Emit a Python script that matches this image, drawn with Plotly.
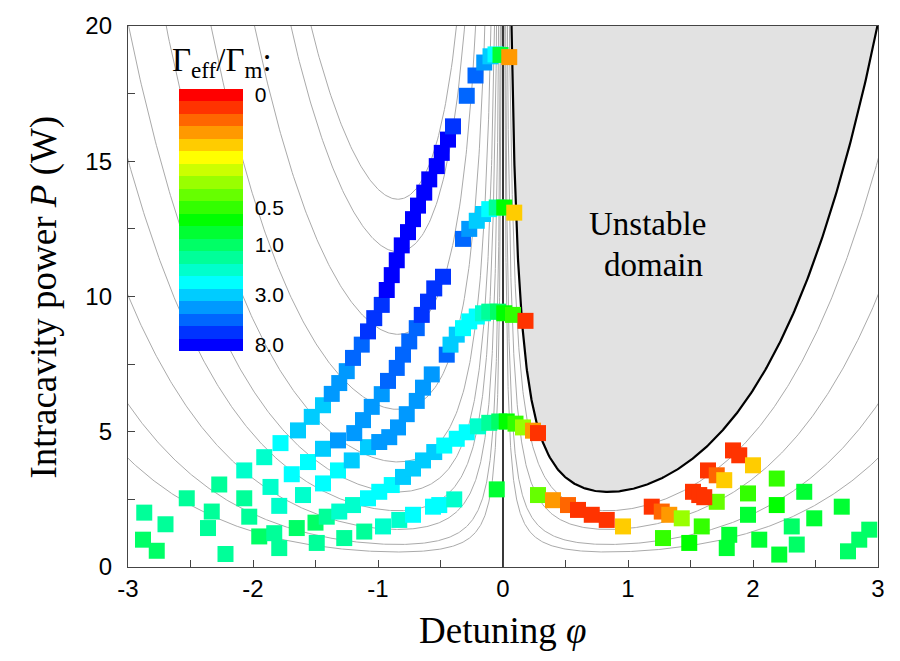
import numpy as np
import plotly.graph_objects as go

# ---------------- data ----------------
# colour level = band index of the colour bar counted from the top
# (0 -> Gamma_eff/Gamma_m = 0 (red) ... 20 -> 8.0 (blue))
phi_A = [-2.87, -2.53, -2.27, -2.07, -1.91, -1.78, -1.64, -1.53, -1.44, -1.37,
         -1.31, -1.25, -1.20, -1.13, -1.08, -1.03, -0.97, -0.93, -0.89, -0.85,
         -0.81, -0.76, -0.72, -0.68, -0.63, -0.59, -0.53, -0.49, -0.44, -0.40,
         -0.29, -0.22, -0.15, -0.10, -0.06, -0.02, 0.05]
P_A = [2.01, 2.54, 3.05, 3.57, 4.06, 4.58, 5.05, 5.55, 5.98, 6.40,
       6.80, 7.24, 7.73, 8.22, 8.71, 9.20, 9.69, 10.24, 10.79, 11.34,
       11.89, 12.38, 12.86, 13.36, 13.84, 14.33, 14.82, 15.31, 15.80, 16.29,
       17.42, 18.17, 18.65, 18.88, 18.95, 18.93, 18.85]
lvl_A = [13, 13, 13, 14, 14, 15, 16, 16, 16, 17,
         17, 17, 18, 18, 19, 19, 19, 20, 20, 20,
         20, 20, 20, 20, 20, 20, 20, 20, 20, 19,
         18, 18, 17, 16, 15, 11, 3]

phi_B = [-2.70, -2.33, -2.07, -1.86, -1.69, -1.56, -1.44, -1.32, -1.19, -1.12,
         -1.05, -0.97, -0.92, -0.85, -0.80, -0.75, -0.69, -0.65, -0.60, -0.55,
         -0.48, -0.32, -0.27, -0.21, -0.16, -0.11, -0.05, 0.01, 0.09]
P_B = [1.58, 2.05, 2.54, 2.96, 3.43, 3.88, 4.37, 4.68, 4.95, 5.43,
       5.92, 6.39, 6.88, 7.36, 7.85, 8.34, 8.83, 9.32, 9.81, 10.30,
       10.73, 12.13, 12.50, 12.80, 13.05, 13.23, 13.29, 13.29, 13.10]
lvl_B = [13, 13, 13, 14, 15, 15, 16, 17, 17, 17,
         17, 17, 18, 18, 18, 18, 18, 19, 19, 19,
         19, 18, 17, 16, 16, 15, 13, 10, 4]

phi_C = [-2.88, -2.36, -2.03, -1.79, -1.60, -1.44, -1.32, -1.21, -1.08, -0.99,
         -0.91, -0.84, -0.77, -0.69, -0.64, -0.57, -0.45, -0.42, -0.37, -0.32,
         -0.27, -0.21, -0.16, -0.11, -0.04, 0.01, 0.08, 0.18]
P_C = [1.01, 1.44, 1.86, 2.26, 2.66, 3.09, 3.57, 3.94, 4.43, 4.62,
       4.80, 5.16, 5.65, 6.14, 6.63, 7.12, 7.85, 8.22, 8.59, 8.83,
       9.08, 9.26, 9.38, 9.44, 9.44, 9.38, 9.32, 9.10]
lvl_C = [12, 13, 13, 14, 14, 15, 15, 16, 16, 17,
         17, 17, 17, 17, 17, 17, 18, 16, 16, 15,
         15, 15, 14, 13, 12, 10, 9, 1]

phi_D = [-1.95, -1.83, -1.65, -1.50, -1.41, -1.31, -1.20, -1.08, -0.99, -0.89,
         -0.80, -0.72, -0.64, -0.55, -0.47, -0.37, -0.29, -0.20, -0.11, -0.03,
         0.03, 0.10, 0.16, 0.24, 0.28]
P_D = [1.13, 1.25, 1.44, 1.64, 1.86, 2.05, 2.29, 2.54, 2.78, 3.03,
       3.33, 3.64, 3.94, 4.25, 4.49, 4.74, 4.98, 5.20, 5.33, 5.38,
       5.38, 5.30, 5.16, 5.04, 4.95]
lvl_D = [12, 13, 12, 12, 13, 14, 14, 15, 15, 15,
         16, 16, 16, 16, 15, 15, 15, 14, 13, 12,
         10, 9, 7, 3, 1]

phi_E = [-2.77, -2.22, -1.79, -1.49, -1.27, -1.11, -0.96, -0.83, -0.72, -0.56,
         -0.51, -0.39, -0.05]
P_E = [0.60, 0.48, 0.70, 0.89, 1.07, 1.31, 1.50, 1.74, 1.93, 2.23,
       2.29, 2.50, 2.87]
lvl_E = [12, 13, 13, 13, 13, 13, 14, 14, 15, 15,
         15, 14, 11]

phi_R = [0.28, 0.40, 0.52, 0.60, 0.71, 0.83, 0.96,
         1.19, 1.27, 1.33, 1.43, 1.52, 1.57, 1.61, 1.64, 1.71, 1.77, 1.84, 1.89, 2.00]
P_R = [2.66, 2.47, 2.29, 2.11, 1.93, 1.74, 1.50,
       2.23, 2.05, 1.93, 1.80, 2.78, 2.66, 2.58, 3.57, 3.39, 3.21, 4.31, 4.13, 3.76]
lvl_R = [8, 3, 2, 1, 1, 1, 4,
         1, 2, 3, 7, 1, 1, 1, 1, 2, 4, 1, 1, 4]

phi_G = [1.28, 1.49, 1.59, 1.71, 1.96, 1.96, 1.81, 1.79, 2.05, 2.19,
         2.19, 2.21, 2.31, 2.35, 2.41, 2.49, 2.71, 2.76, 2.85, 2.93]
P_G = [1.07, 0.89, 1.50, 2.41, 2.72, 1.93, 1.19, 0.70, 1.01, 3.27,
       2.29, 0.46, 1.50, 0.83, 2.78, 1.80, 2.23, 0.58, 1.01, 1.38]
lvl_G = [9, 10, 9, 8, 9, 11, 11, 11, 11, 9,
         10, 11, 12, 12, 11, 11, 11, 12, 12, 12]

# colour bar
band_colors = ["#FF0000", "#FF3300", "#FF6600", "#FF9900", "#FFCC00", "#FFFF00",
               "#CCFF00", "#99FF00", "#66FF00", "#33FF00", "#00FF00", "#00FF33",
               "#00FF66", "#00FF99", "#00FFCC", "#00FFFF", "#00CCFF", "#0099FF",
               "#0066FF", "#0033FF", "#0000FF"]
cbar_band = [0, 9, 12, 16, 20]
cbar_text = ["0", "0.5", "1.0", "3.0", "8.0"]

# theory curves: P = k * f(phi), f(phi) = A/|phi| * (1 + (phi/w)^2)^n
A_par, w_par, n_par = 1.35, 1.88, 3.0
k_right = [0.2, 0.3, 0.5, 0.75]
k_left = [0.2, 0.3, 0.5, 0.75, 1.0, 1.4, 2.1, 3.1, 4.2, 4.9]

x_ticks = [-3, -2, -1, 0, 1, 2, 3]
x_ticktext = ["-3", "-2", "-1", "0", "1", "2", "3"]
y_ticks = [0, 5, 10, 15, 20]

# ---------------- figure ----------------
def f_curve(ph):
    return A_par / ph * (1 + (ph / w_par) ** 2) ** n_par

ph = np.concatenate([np.geomspace(0.003, 0.3, 300), np.linspace(0.3, 3.1, 300)[1:]])
fb = f_curve(ph)

fig = go.Figure()

# unstable domain
mask = fb <= 40
fig.add_trace(go.Scatter(x=ph[mask], y=np.minimum(fb[mask], 20), mode="lines",
                         fill="toself", fillcolor="#e2e2e2",
                         line=dict(width=0), hoverinfo="skip", showlegend=False))

GRAY = "#aaaaaa"
for k in k_right:
    fig.add_trace(go.Scatter(x=ph, y=k * fb, mode="lines",
                             line=dict(color=GRAY, width=1), hoverinfo="skip", showlegend=False))
for k in k_left:
    fig.add_trace(go.Scatter(x=-ph, y=k * fb, mode="lines",
                             line=dict(color=GRAY, width=1), hoverinfo="skip", showlegend=False))

# phi = 0 line and instability threshold
fig.add_trace(go.Scatter(x=[0, 0], y=[0, 20], mode="lines",
                         line=dict(color="#222222", width=1.8), hoverinfo="skip", showlegend=False))
fig.add_trace(go.Scatter(x=ph, y=fb, mode="lines",
                         line=dict(color="black", width=2.2), hoverinfo="skip", showlegend=False))

# data squares
nb = len(band_colors)
colorscale = []
for i in range(nb):
    c = band_colors[nb - 1 - i]
    colorscale.append([i / nb, c])
    colorscale.append([(i + 1) / nb, c])

phi_all = phi_E + phi_D + phi_C + phi_B + phi_A + phi_G + phi_R
P_all = P_E + P_D + P_C + P_B + P_A + P_G + P_R
lvl_all = lvl_E + lvl_D + lvl_C + lvl_B + lvl_A + lvl_G + lvl_R
cval = [nb - 1 - b for b in lvl_all]

SERIF = "Liberation Serif, Times New Roman, serif"
SANS = "Liberation Sans, Arial, sans-serif"

fig.add_trace(go.Scatter(
    x=phi_all, y=P_all, mode="markers", showlegend=False,
    marker=dict(symbol="square", size=16, color=cval, colorscale=colorscale,
                cmin=-0.5, cmax=nb - 0.5, line=dict(width=0),
                colorbar=dict(
                    x=(179.5 - 128.3) / 750, xanchor="left", xpad=0,
                    y=(567.5 - 217.5) / 545.5, yanchor="middle", ypad=0,
                    thickness=64, thicknessmode="pixels",
                    len=262, lenmode="pixels",
                    outlinewidth=0,
                    tickvals=[nb - 1 - b for b in cbar_band], ticktext=cbar_text,
                    ticks="outside", ticklen=8, tickcolor="rgba(0,0,0,0)",
                    tickfont=dict(family=SANS, size=21, color="black"),
                ))))


def ann(text, xpx, ypx, size, angle=0):
    return dict(text=text, xref="paper", yref="paper",
                x=(xpx - 128.3) / 750, y=(567.5 - ypx) / 545.5,
                xanchor="center", yanchor="middle", textangle=angle,
                showarrow=False, font=dict(family=SERIF, size=size, color="black"))


fig.update_layout(
    width=900, height=661,
    margin=dict(l=128, r=22, t=22, b=94),
    paper_bgcolor="white", plot_bgcolor="white",
    xaxis=dict(range=[-3, 3], tickvals=x_ticks, ticktext=x_ticktext,
               ticks="inside", ticklen=7, tickcolor="#444", tickwidth=1,
               minor=dict(dtick=0.5, tick0=-3, ticks="inside", ticklen=7, tickcolor="#444"),
               showgrid=False, zeroline=False, showline=True, linecolor="#444",
               linewidth=1.3, mirror=True,
               tickfont=dict(family=SANS, size=24, color="black")),
    yaxis=dict(range=[0, 20], tickvals=y_ticks,
               ticks="inside", ticklen=7, tickcolor="#444", tickwidth=1,
               minor=dict(dtick=2.5, tick0=0, ticks="inside", ticklen=7, tickcolor="#444"),
               showgrid=False, zeroline=False, showline=True, linecolor="#444",
               linewidth=1.3, mirror=True, ticklabelstandoff=10,
               tickfont=dict(family=SANS, size=24, color="black")),
    annotations=[
        ann("Detuning <i>φ</i>", 503, 632, 37),
        ann("Intracavity power <i>P</i> (W)", 44, 295, 37, -90),
        ann("Unstable", 648, 222, 33),
        ann("domain", 654, 263, 33),
        ann("Γ<sub>eff</sub>/Γ<sub>m</sub>:", 222, 59, 33),
    ],
)

fig.write_html("out.html")
